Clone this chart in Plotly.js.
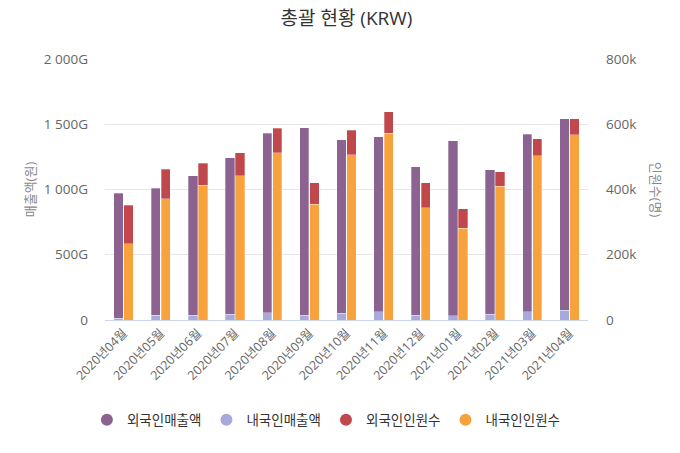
<!DOCTYPE html>
<html>
<head>
<meta charset="utf-8">
<script src="https://cdn.plot.ly/plotly-3.0.1.min.js"></script>
<style>
  html, body { margin: 0; padding: 0; background: #fff; }
  #graph { width: 680px; height: 453px; }
</style>
</head>
<body>
<div id="graph"></div>
<script>
const months = ['2020년04월', '2020년05월', '2020년06월', '2020년07월', '2020년08월', '2020년09월', '2020년10월',
  '2020년11월', '2020년12월', '2021년01월', '2021년02월', '2021년03월', '2021년04월'];

// sales in G (1e9 won)
const foreignSales = [959, 972, 1069, 1199, 1377, 1438, 1329, 1342, 1135, 1341, 1110, 1359, 1469];
const domesticSales = [13, 36, 36, 43, 54, 36, 51, 64, 38, 31, 43, 64, 74];

// visitors in k
const foreignVisitors = [117, 90, 67, 71, 74, 65, 74, 67, 76, 59, 45, 52, 49];
const domesticVisitors = [234, 372, 413, 442, 513, 355, 507, 572, 344, 282, 410, 504, 568];

const salesTicks = [0, 500, 1000, 1500, 2000];
const salesTickText = ['0', '500G', '1 000G', '1 500G', '2 000G'];
const visitorTicks = [0, 200, 400, 600, 800];
const visitorTickText = ['0', '200k', '400k', '600k', '800k'];

const COLORS = {
  foreignSales: '#8c6390',
  domesticSales: '#a6a9da',
  foreignVisitors: '#c0474b',
  domesticVisitors: '#f7a23d'
};

const FONT = 'Open Sans, "Noto Sans CJK KR", sans-serif';
const toG = v => v.map(d => d * 1e9);
const toK = v => v.map(d => d * 1e3);

function bar(name, y, axis, color, offset) {
  return {
    type: 'bar',
    name: name,
    x: months,
    y: y,
    yaxis: axis,
    offset: offset,
    width: 0.25,
    showlegend: false,
    marker: { color: color, line: { color: 'rgba(255,255,255,0.6)', width: 0.5 } },
    hoverinfo: 'x+y+name'
  };
}

function legendItem(name, color) {
  return {
    type: 'scatter',
    mode: 'markers',
    name: name,
    x: [null],
    y: [null],
    marker: { color: color, size: 12, symbol: 'circle' },
    hoverinfo: 'skip'
  };
}

const traces = [
  bar('내국인매출액', toG(domesticSales), 'y', COLORS.domesticSales, -0.26),
  bar('외국인매출액', toG(foreignSales), 'y', COLORS.foreignSales, -0.26),
  bar('내국인인원수', toK(domesticVisitors), 'y2', COLORS.domesticVisitors, 0.01),
  bar('외국인인원수', toK(foreignVisitors), 'y2', COLORS.foreignVisitors, 0.01),
  legendItem('외국인매출액', COLORS.foreignSales),
  legendItem('내국인매출액', COLORS.domesticSales),
  legendItem('외국인인원수', COLORS.foreignVisitors),
  legendItem('내국인인원수', COLORS.domesticVisitors)
];

const layout = {
  width: 680,
  height: 453,
  barmode: 'stack',
  paper_bgcolor: '#fff',
  plot_bgcolor: '#fff',
  font: { family: FONT, color: '#666', size: 12 },
  margin: { l: 105, r: 92, t: 59, b: 133, pad: 0 },
  title: {
    text: '총괄 현황 (KRW)',
    font: { family: FONT, size: 19, color: '#333', weight: 'normal' },
    x: 0.5, xref: 'paper', y: 0.96, yref: 'container', yanchor: 'middle'
  },
  xaxis: {
    type: 'category',
    automargin: false,
    tickangle: -45,
    tickfont: { size: 12.5, color: '#666' },
    showgrid: false,
    showline: true,
    linecolor: '#ccd6eb',
    linewidth: 1,
    ticks: '',
    range: [-0.5, 12.5]
  },
  yaxis: {
    automargin: false,
    range: [0, 2000e9],
    tickvals: salesTicks.map(v => v * 1e9),
    ticktext: salesTickText,
    tickfont: { size: 13.5, color: '#666' },
    gridcolor: '#e6e6e6',
    zeroline: false,
    ticks: '',
    ticklabelstandoff: 16,
    title: { text: '매출액(원)', font: { size: 13, color: '#888' }, standoff: 5 }
  },
  yaxis2: {
    automargin: false,
    overlaying: 'y',
    side: 'right',
    range: [0, 800e3],
    tickvals: visitorTicks.map(v => v * 1e3),
    ticktext: visitorTickText,
    tickfont: { size: 13.5, color: '#666' },
    showgrid: false,
    zeroline: false,
    ticks: '',
    ticklabelstandoff: 17
  },
  annotations: [{
    text: '인원수(명)',
    xref: 'paper', yref: 'paper',
    x: 1.165, y: 0.5,
    textangle: 90,
    showarrow: false,
    font: { size: 13, color: '#888' }
  }],
  legend: {
    orientation: 'h',
    traceorder: 'normal',
    xref: 'container', yref: 'container',
    x: 0.48, xanchor: 'center',
    y: 0.073, yanchor: 'middle',
    font: { size: 13.5, color: '#333' },
    itemwidth: 30,
    tracegroupgap: 0
  }
};

Plotly.newPlot('graph', traces, layout, { displayModeBar: false, staticPlot: true });
</script>
</body>
</html>
